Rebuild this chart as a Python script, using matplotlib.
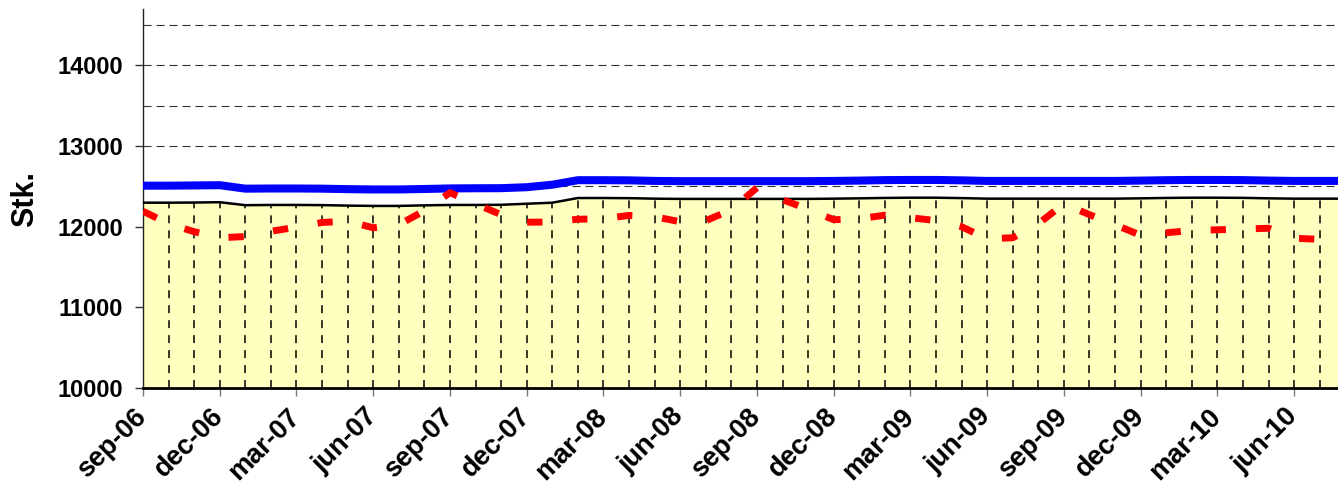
import matplotlib
matplotlib.use('Agg')
import matplotlib.pyplot as plt
import numpy as np
from matplotlib.ticker import MultipleLocator, FixedLocator, NullFormatter

plt.rcParams['font.family'] = ['Liberation Sans', 'DejaVu Sans']

# ---- data (monthly, sep-06 .. aug-10) ----
tick_labels = ['sep-06', 'dec-06', 'mar-07', 'jun-07', 'sep-07', 'dec-07',
               'mar-08', 'jun-08', 'sep-08', 'dec-08', 'mar-09', 'jun-09',
               'sep-09', 'dec-09', 'mar-10', 'jun-10']

blue_values = [12509, 12509, 12512, 12515, 12472, 12474, 12474, 12472, 12466, 12462,
               12462, 12468, 12475, 12477, 12478, 12490, 12521, 12577, 12577, 12575,
               12568, 12565, 12565, 12565, 12565, 12565, 12565, 12568, 12572, 12578,
               12580, 12580, 12575, 12568, 12568, 12568, 12568, 12568, 12568, 12572,
               12577, 12580, 12580, 12578, 12572, 12568, 12568, 12568]

area_values = [12298, 12298, 12300, 12304, 12267, 12270, 12270, 12268, 12262, 12258,
               12258, 12265, 12270, 12270, 12272, 12285, 12298, 12356, 12356, 12354,
               12348, 12345, 12345, 12345, 12345, 12345, 12345, 12348, 12352, 12357,
               12360, 12360, 12355, 12348, 12348, 12348, 12348, 12348, 12348, 12352,
               12357, 12360, 12360, 12358, 12352, 12348, 12348, 12348]

red_values = [12192, 12037, 11938, 11863, 11878, 11944, 11994, 12053, 12068, 11987,
              12025, 12198, 12422, 12285, 12149, 12056, 12058, 12093, 12099, 12140,
              12124, 12062, 12074, 12211, 12484, 12335, 12217, 12087, 12099, 12143,
              12111, 12077, 12000, 11851, 11863, 12037, 12285, 12149, 12025, 11894,
              11925, 11954, 11962, 11971, 11981, 11857, 11844, 11987]

x = np.arange(len(area_values))
area = np.array(area_values)

W, H = 1338, 486
fig = plt.figure(figsize=(W / 100, H / 100), dpi=100)
ax = fig.add_axes([143 / W, 1 - 388 / H, 1202.3 / W, 379 / H])

ax.fill_between(x, 10000, area, color='#FFFFC0', zorder=1, lw=0)
ax.vlines(x[1:], 10000, area[1:], colors='black', linestyles=[(0, (5.2, 4.6))],
          lw=1.1, zorder=2)
ax.plot(x, area, color='black', lw=1.8, zorder=3)
ax.plot(x, blue_values, color='#0000FF', lw=5.8, zorder=4, solid_capstyle='butt')
ax.plot(x, red_values, color='#FF0000', lw=5, linestyle=(0, (2.2, 4.3)),
        dash_capstyle='butt', zorder=5)

ax.set_xlim(0, 47)
ax.set_ylim(10000, 14700)

ax.yaxis.set_major_locator(MultipleLocator(1000))
ax.yaxis.set_minor_locator(MultipleLocator(500))
ax.yaxis.set_minor_formatter(NullFormatter())
ax.grid(axis='y', which='both', linestyle=(0, (7.2, 4.5)), color='#333333', lw=0.8)
ax.set_axisbelow(True)

ax.xaxis.set_major_locator(FixedLocator(np.arange(0, 3 * len(tick_labels), 3)))
ax.set_xticklabels(tick_labels, rotation=45, ha='right', va='center',
                   rotation_mode='anchor', fontsize=19.5, fontweight='bold')
for lab in ax.get_yticklabels():
    lab.set_fontweight('bold')
ax.tick_params(axis='y', which='major', direction='out', length=5.8, width=1,
               color='#333333', labelsize=17, pad=8.6)
ax.tick_params(axis='y', which='minor', length=0)
ax.tick_params(axis='x', which='major', direction='out', length=5.8, width=1,
               color='#777777', pad=12)

for side in ('top', 'right'):
    ax.spines[side].set_visible(False)
ax.spines['left'].set_color('#222222')
ax.spines['left'].set_linewidth(1)
ax.spines['bottom'].set_color('black')
ax.spines['bottom'].set_linewidth(2)
ax.spines['bottom'].set_zorder(6)

ax.set_ylabel('Stk.', fontsize=22, fontweight='bold')
ax.yaxis.set_label_coords((40 - 143) / 1202.3, 0.5)

fig.savefig('out.png', dpi=100)
